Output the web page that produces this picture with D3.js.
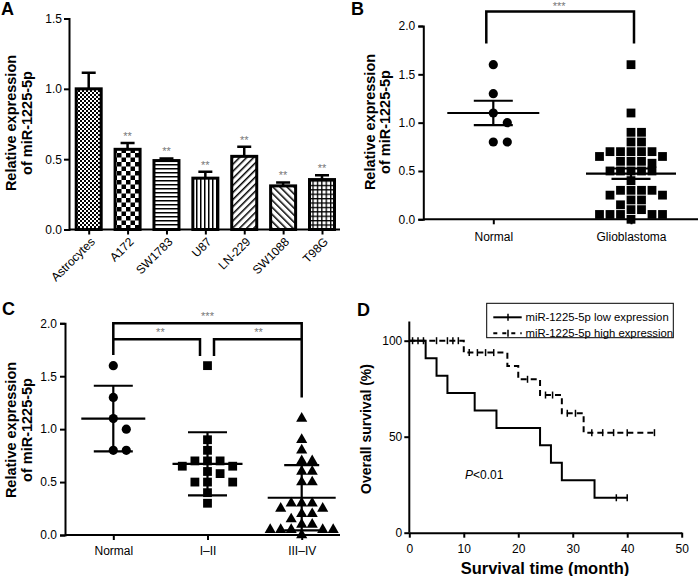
<!DOCTYPE html>
<html>
<head>
<meta charset="utf-8">
<script src="https://cdn.jsdelivr.net/npm/d3@7"></script>
<style>
  body { margin: 0; background: #fff; }
  svg { display: block; font-family: "Liberation Sans", Arial, sans-serif; }
  .axis path, .axis line { stroke: #000; stroke-width: 2; }
  .axis text { font-size: 12px; fill: #000; }
</style>
</head>
<body>
<div id="chart"></div>
<script>
// panel A data: cell lines
const aCats = ["Astrocytes", "A172", "SW1783", "U87", "LN-229", "SW1088", "T98G"];
const aMeans = [1.0, 0.57, 0.49, 0.365, 0.52, 0.31, 0.355];
const aErr = [0.115, 0.045, 0.015, 0.045, 0.068, 0.025, 0.03];
const aSig = ["", "**", "**", "**", "**", "**", "**"];
const aTicks = [0, 0.5, 1.0, 1.5];

// panel B / C data: tissue samples
const normalVals = [1.6, 1.3, 1.1, 1.0, 0.8, 0.8];
const stage12 = [1.6, 0.9, 0.8, 0.7, 0.7, 0.7, 0.65, 0.65, 0.6, 0.58, 0.5, 0.5, 0.5, 0.4, 0.3];
const stage34 = [1.1, 0.9, 0.8, 0.7, 0.7, 0.6, 0.6, 0.5, 0.5, 0.3, 0.3, 0.3, 0.25, 0.25, 0.2, 0.2, 0.15,
                 0.1, 0.1, 0.05, 0.05, 0.05, 0.05, 0.05, 0.0];
const gbmVals = stage12.concat(stage34);
const bCats = ["Normal", "Glioblastoma"];
const cCats = ["Normal", "I\u2013II", "III\u2013IV"];
const bcTicks = [0, 0.5, 1.0, 1.5, 2.0];

// panel D data: Kaplan-Meier steps
const lowT = [0, 3, 5, 7, 12, 16, 24, 26, 28, 34];
const lowS = [100, 90.9, 81.8, 72.7, 63.6, 54.5, 45.5, 36.4, 27.3, 18.2];
const lowEnd = 40;
const lowCens = [38, 40];
const highT = [0, 10, 18, 20, 24, 28, 32];
const highS = [100, 93.8, 86.8, 79.9, 71.7, 62.2, 52.1];
const highEnd = 45;
const highCens = [0.6, 1.6, 2.6, 5, 7, 8, 9, 11, 12.5, 14, 15.5, 21.7, 25, 26.3, 29, 30.5,
                  33.5, 35.5, 37.5, 40, 45];
const dxTicks = [0, 10, 20, 30, 40, 50];
const dyTicks = [0, 50, 100];

const svg = d3.select("#chart").append("svg")
    .attr("width", 698)
    .attr("height", 576);

const defs = svg.append("defs");

// fill patterns for the bars
function pattern(id, w, h, draw, transform) {
    const p = defs.append("pattern")
        .attr("id", id)
        .attr("patternUnits", "userSpaceOnUse")
        .attr("width", w).attr("height", h);
    if (transform) p.attr("patternTransform", transform);
    p.append("rect").attr("width", w).attr("height", h).attr("fill", "#fff");
    draw(p);
}
pattern("pChkS", 4, 4, p => {
    p.append("rect").attr("width", 2).attr("height", 2).attr("fill", "#000");
    p.append("rect").attr("x", 2).attr("y", 2).attr("width", 2).attr("height", 2).attr("fill", "#000");
});
pattern("pChkL", 9, 9, p => {
    p.append("rect").attr("width", 4.5).attr("height", 4.5).attr("fill", "#000");
    p.append("rect").attr("x", 4.5).attr("y", 4.5).attr("width", 4.5).attr("height", 4.5).attr("fill", "#000");
});
pattern("pHor", 4, 4, p => {
    p.append("rect").attr("width", 4).attr("height", 1.5).attr("fill", "#000");
});
pattern("pVer", 4, 4, p => {
    p.append("rect").attr("width", 1.5).attr("height", 4).attr("fill", "#000");
});
pattern("pDiag1", 5, 5, p => {
    p.append("rect").attr("width", 1.5).attr("height", 5).attr("fill", "#000");
}, "rotate(45)");
pattern("pDiag2", 5, 5, p => {
    p.append("rect").attr("width", 1.5).attr("height", 5).attr("fill", "#000");
}, "rotate(-45)");
pattern("pGrid", 4.4, 4.4, p => {
    p.append("rect").attr("width", 4.4).attr("height", 1.3).attr("fill", "#000");
    p.append("rect").attr("width", 1.3).attr("height", 4.4).attr("fill", "#000");
});
const aFills = ["pChkS", "pChkL", "pHor", "pVer", "pDiag1", "pDiag2", "pGrid"];

function panelLabel(t, x, y) {
    svg.append("text").attr("x", x).attr("y", y).text(t)
        .attr("font-size", 18).attr("font-weight", "bold");
}

function yTitle(lines, x, y, gap, fs) {
    const t = svg.append("text")
        .attr("transform", `translate(${x},${y}) rotate(-90)`)
        .attr("text-anchor", "middle")
        .attr("font-size", fs || 14.5).attr("font-weight", "bold");
    lines.forEach((l, i) => {
        t.append("tspan").attr("x", 0).attr("y", i * gap).text(l);
    });
}

// ---------- panel A ----------
const xA = d3.scalePoint().domain(aCats).range([88.7, 322]);
const yA = d3.scaleLinear().domain([0, 1.5]).range([229.5, 18.5]);
const barW = 25;

const gA = svg.append("g");
gA.append("g").attr("class", "axis")
    .attr("transform", "translate(69,0)")
    .call(d3.axisLeft(yA).tickValues(aTicks).tickFormat(d3.format(".1f")).tickSize(5).tickPadding(2));
gA.append("g").attr("class", "axis")
    .attr("transform", `translate(0,${yA(0)})`)
    .call(d3.axisBottom(xA).tickSize(5).tickSizeOuter(0).tickFormat(""))
    .select(".domain").attr("d", `M69,0H340`);

// error bars (upper only)
gA.selectAll(".err").data(aCats).join("path")
    .attr("fill", "none").attr("stroke", "#000").attr("stroke-width", 2.5)
    .attr("d", (d, i) => {
        const x = xA(d), yt = yA(aMeans[i] + aErr[i]);
        return `M${x},${yA(aMeans[i])}V${yt}M${x - 7},${yt}H${x + 7}`;
    });
gA.selectAll(".bar").data(aCats).join("rect")
    .attr("x", d => xA(d) - barW / 2)
    .attr("y", (d, i) => yA(aMeans[i]))
    .attr("width", barW)
    .attr("height", (d, i) => yA(0) - yA(aMeans[i]))
    .attr("fill", (d, i) => `url(#${aFills[i]})`)
    .attr("stroke", "#000").attr("stroke-width", 3);
gA.selectAll(".sig").data(aCats).join("text")
    .attr("x", d => xA(d))
    .attr("y", (d, i) => yA(aMeans[i] + aErr[i]) - 3)
    .attr("text-anchor", "middle").attr("font-size", 11).attr("fill", "#777")
    .text((d, i) => aSig[i]);
gA.selectAll(".xl").data(aCats).join("text")
    .attr("transform", d => `translate(${xA(d) + 4},${yA(0) + 10}) rotate(-45)`)
    .attr("text-anchor", "end").attr("dy", "0.35em").attr("font-size", 12)
    .text(d => d);
yTitle(["Relative expression", "of miR-1225-5p"], 15.5, 123, 16.5);
panelLabel("A", 1, 15);

// ---------- scatter helpers ----------
function swarm(vals, y, sizeY, gapX) {
    const pts = vals.map(v => ({ v, py: y(v) })).sort((a, b) => a.py - b.py);
    const placed = [];
    const h = gapX / 2;
    pts.forEach(p => {
        for (let k = 0; k < 60; k++) {
            const dx = k === 0 ? 0 : (k % 2 ? 1 : -1) * Math.ceil(k / 2) * h;
            const hit = placed.some(q => Math.abs(q.dx - dx) < gapX - 0.01 && Math.abs(q.py - p.py) < sizeY);
            if (!hit) { p.dx = dx; placed.push(p); break; }
        }
    });
    return placed;
}

function drawPoints(g, vals, cx, y, shape, sizeY, gapX) {
    const pts = swarm(vals, y, sizeY, gapX);
    if (shape === "circle") {
        g.selectAll(null).data(pts).join("circle")
            .attr("cx", d => cx + d.dx).attr("cy", d => d.py).attr("r", 4.6).attr("fill", "#000");
    } else if (shape === "square") {
        g.selectAll(null).data(pts).join("rect")
            .attr("x", d => cx + d.dx - 4.4).attr("y", d => d.py - 4.4)
            .attr("width", 8.8).attr("height", 8.8).attr("fill", "#000");
    } else {
        const tri = d3.symbol().type(d3.symbolTriangle).size(54)();
        g.selectAll(null).data(pts).join("path")
            .attr("d", tri)
            .attr("transform", d => `translate(${cx + d.dx},${d.py})`).attr("fill", "#000");
    }
}

function meanBars(g, vals, cx, y, spread, meanHalf, capHalf) {
    const m = d3.mean(vals);
    const sd = d3.deviation(vals);
    const e = spread === "sem" ? sd / Math.sqrt(vals.length) : sd;
    g.append("path").attr("fill", "none").attr("stroke", "#000").attr("stroke-width", 2.2)
        .attr("d", `M${cx - meanHalf},${y(m)}H${cx + meanHalf}` +
            `M${cx - capHalf},${y(m + e)}H${cx + capHalf}` +
            `M${cx - capHalf},${y(m - e)}H${cx + capHalf}` +
            `M${cx},${y(m + e)}V${y(m - e)}`);
}

// ---------- panel B ----------
const xB = d3.scalePoint().domain(bCats).range([493.3, 631]);
const yB = d3.scaleLinear().domain([0, 2]).range([219.3, 26]);
const gB = svg.append("g");
gB.append("g").attr("class", "axis")
    .attr("transform", "translate(423.3,0)")
    .call(d3.axisLeft(yB).tickValues(bcTicks).tickFormat(d3.format(".1f")).tickSize(5).tickPadding(3));
gB.append("g").attr("class", "axis")
    .attr("transform", `translate(0,${yB(0)})`)
    .call(d3.axisBottom(xB).tickSize(5).tickSizeOuter(0).tickPadding(8))
    .select(".domain").attr("d", "M423.3,0H698");
drawPoints(gB, normalVals, xB("Normal"), yB, "circle", 10, 14);
drawPoints(gB, gbmVals, xB("Glioblastoma"), yB, "square", 7.5, 10.5);
meanBars(gB, normalVals, xB("Normal"), yB, "sem", 46, 19.5);
meanBars(gB, gbmVals, xB("Glioblastoma"), yB, "sem", 45, 19.5);
gB.append("path").attr("fill", "none").attr("stroke", "#000").attr("stroke-width", 2.5)
    .attr("d", `M${xB("Normal") - 7},${yB(1.82)}V${yB(2.15)}H${xB("Glioblastoma") + 3}V${yB(1.82)}`);
gB.append("text").attr("x", (xB("Normal") + xB("Glioblastoma")) / 2 - 3).attr("y", yB(2.15) - 2)
    .attr("text-anchor", "middle").attr("font-size", 11).attr("fill", "#777").text("***");
yTitle(["Relative expression", "of miR-1225-5p"], 374.5, 122, 15);
panelLabel("B", 351, 15);

// ---------- panel C ----------
const xC = d3.scalePoint().domain(cCats).range([113.3, 301.7]);
const yC = d3.scaleLinear().domain([0, 2]).range([535, 323.3]);
const gC = svg.append("g");
gC.append("g").attr("class", "axis")
    .attr("transform", "translate(65,0)")
    .call(d3.axisLeft(yC).tickValues(bcTicks).tickFormat(d3.format(".1f")).tickSize(5).tickPadding(3));
gC.append("g").attr("class", "axis")
    .attr("transform", `translate(0,${yC(0)})`)
    .call(d3.axisBottom(xC).tickSize(5).tickSizeOuter(0).tickPadding(6))
    .select(".domain").attr("d", "M65,0H340");
drawPoints(gC, normalVals, xC(cCats[0]), yC, "circle", 11, 13);
drawPoints(gC, stage12, xC(cCats[1]), yC, "square", 9, 12.6);
drawPoints(gC, stage34, xC(cCats[2]), yC, "triangle", 8, 10.5);
meanBars(gC, normalVals, xC(cCats[0]), yC, "sd", 32, 19.5);
meanBars(gC, stage12, xC(cCats[1]), yC, "sd", 35, 19.5);
meanBars(gC, stage34, xC(cCats[2]), yC, "sd", 34, 17.5);
const xN = xC(cCats[0]), x12 = xC(cCats[1]), x34 = xC(cCats[2]);
gC.append("path").attr("fill", "none").attr("stroke", "#000").attr("stroke-width", 2.5)
    .attr("d", `M${xN},${yC(1.7)}V${yC(2.0)}H${x34}V${yC(1.3)}` +
        `M${xN},${yC(1.85)}H${x12 - 7.5}V${yC(1.69)}` +
        `M${x12 + 6.5},${yC(1.69)}V${yC(1.85)}H${x34}`);
gC.append("text").attr("x", x12).attr("y", yC(2.0) - 3)
    .attr("text-anchor", "middle").attr("font-size", 11).attr("fill", "#777").text("***");
gC.append("text").attr("x", (xN + x12) / 2).attr("y", yC(1.85) - 3)
    .attr("text-anchor", "middle").attr("font-size", 11).attr("fill", "#777").text("**");
gC.append("text").attr("x", (x12 + x34) / 2 + 4).attr("y", yC(1.85) - 3)
    .attr("text-anchor", "middle").attr("font-size", 11).attr("fill", "#777").text("**");
yTitle(["Relative expression", "of miR-1225-5p"], 15.5, 430, 16);
panelLabel("C", 2, 315);

// ---------- panel D ----------
const xD = d3.scaleLinear().domain([0, 50]).range([409.3, 681.7]);
const yD = d3.scaleLinear().domain([0, 100]).range([532.7, 340.7]);
const gD = svg.append("g");
gD.append("g").attr("class", "axis")
    .attr("transform", `translate(${xD(0)},0)`)
    .call(d3.axisLeft(yD).tickValues(dyTicks).tickSize(5).tickPadding(2).tickSizeOuter(0))
    .select(".domain").attr("d", `M0,${yD(0)}V${yD(110)}`);
gD.append("g").attr("class", "axis")
    .attr("transform", `translate(0,${yD(0)})`)
    .call(d3.axisBottom(xD).tickValues(dxTicks).tickSize(5).tickPadding(7).tickSizeOuter(0));

function kmCurve(T, S, end, cens, dash) {
    const pts = T.map((t, i) => [t, S[i]]).concat([[end, S[S.length - 1]]]);
    const line = d3.line().x(d => xD(d[0])).y(d => yD(d[1])).curve(d3.curveStepAfter);
    gD.append("path").attr("d", line(pts))
        .attr("fill", "none").attr("stroke", "#000").attr("stroke-width", 2)
        .attr("stroke-dasharray", dash || null);
    const survAt = t => S[d3.bisectRight(T, t) - 1];
    gD.selectAll(null).data(cens).join("line")
        .attr("x1", d => xD(d)).attr("x2", d => xD(d))
        .attr("y1", d => yD(survAt(d)) - 3.5).attr("y2", d => yD(survAt(d)) + 3.5)
        .attr("stroke", "#000").attr("stroke-width", 1.5);
}
kmCurve(lowT, lowS, lowEnd, lowCens, null);
kmCurve(highT, highS, highEnd, highCens, "6,4");

// legend
const lg = gD.append("g");
lg.append("rect").attr("x", 486.7).attr("y", 303.3).attr("width", 186.6).attr("height", 34.4)
    .attr("fill", "#fff").attr("stroke", "#000").attr("stroke-width", 1);
const legItems = ["miR-1225-5p low expression", "miR-1225-5p high expression"];
legItems.forEach((t, i) => {
    const yy = 317.3 + i * 16;
    lg.append("line").attr("x1", 493.3).attr("x2", 521.7).attr("y1", yy).attr("y2", yy)
        .attr("stroke", "#000").attr("stroke-width", 2)
        .attr("stroke-dasharray", i ? "4,5" : null);
    lg.append("line").attr("x1", 508).attr("x2", 508).attr("y1", yy - 3.5).attr("y2", yy + 3.5)
        .attr("stroke", "#000").attr("stroke-width", 1.5);
    lg.append("text").attr("x", 525.5).attr("y", yy).attr("dy", "0.35em")
        .attr("font-size", 11.3).text(t);
});

const pt = gD.append("text").attr("x", 465).attr("y", 479).attr("font-size", 12);
pt.append("tspan").attr("font-style", "italic").text("P");
pt.append("tspan").text("<0.01");

gD.append("text").attr("x", 545).attr("y", 574).attr("text-anchor", "middle")
    .attr("font-size", 16.5).attr("font-weight", "bold").text("Survival time (month)");
yTitle(["Overall survival (%)"], 370.5, 429, 16, 14);
panelLabel("D", 357, 316);
</script>
</body>
</html>
